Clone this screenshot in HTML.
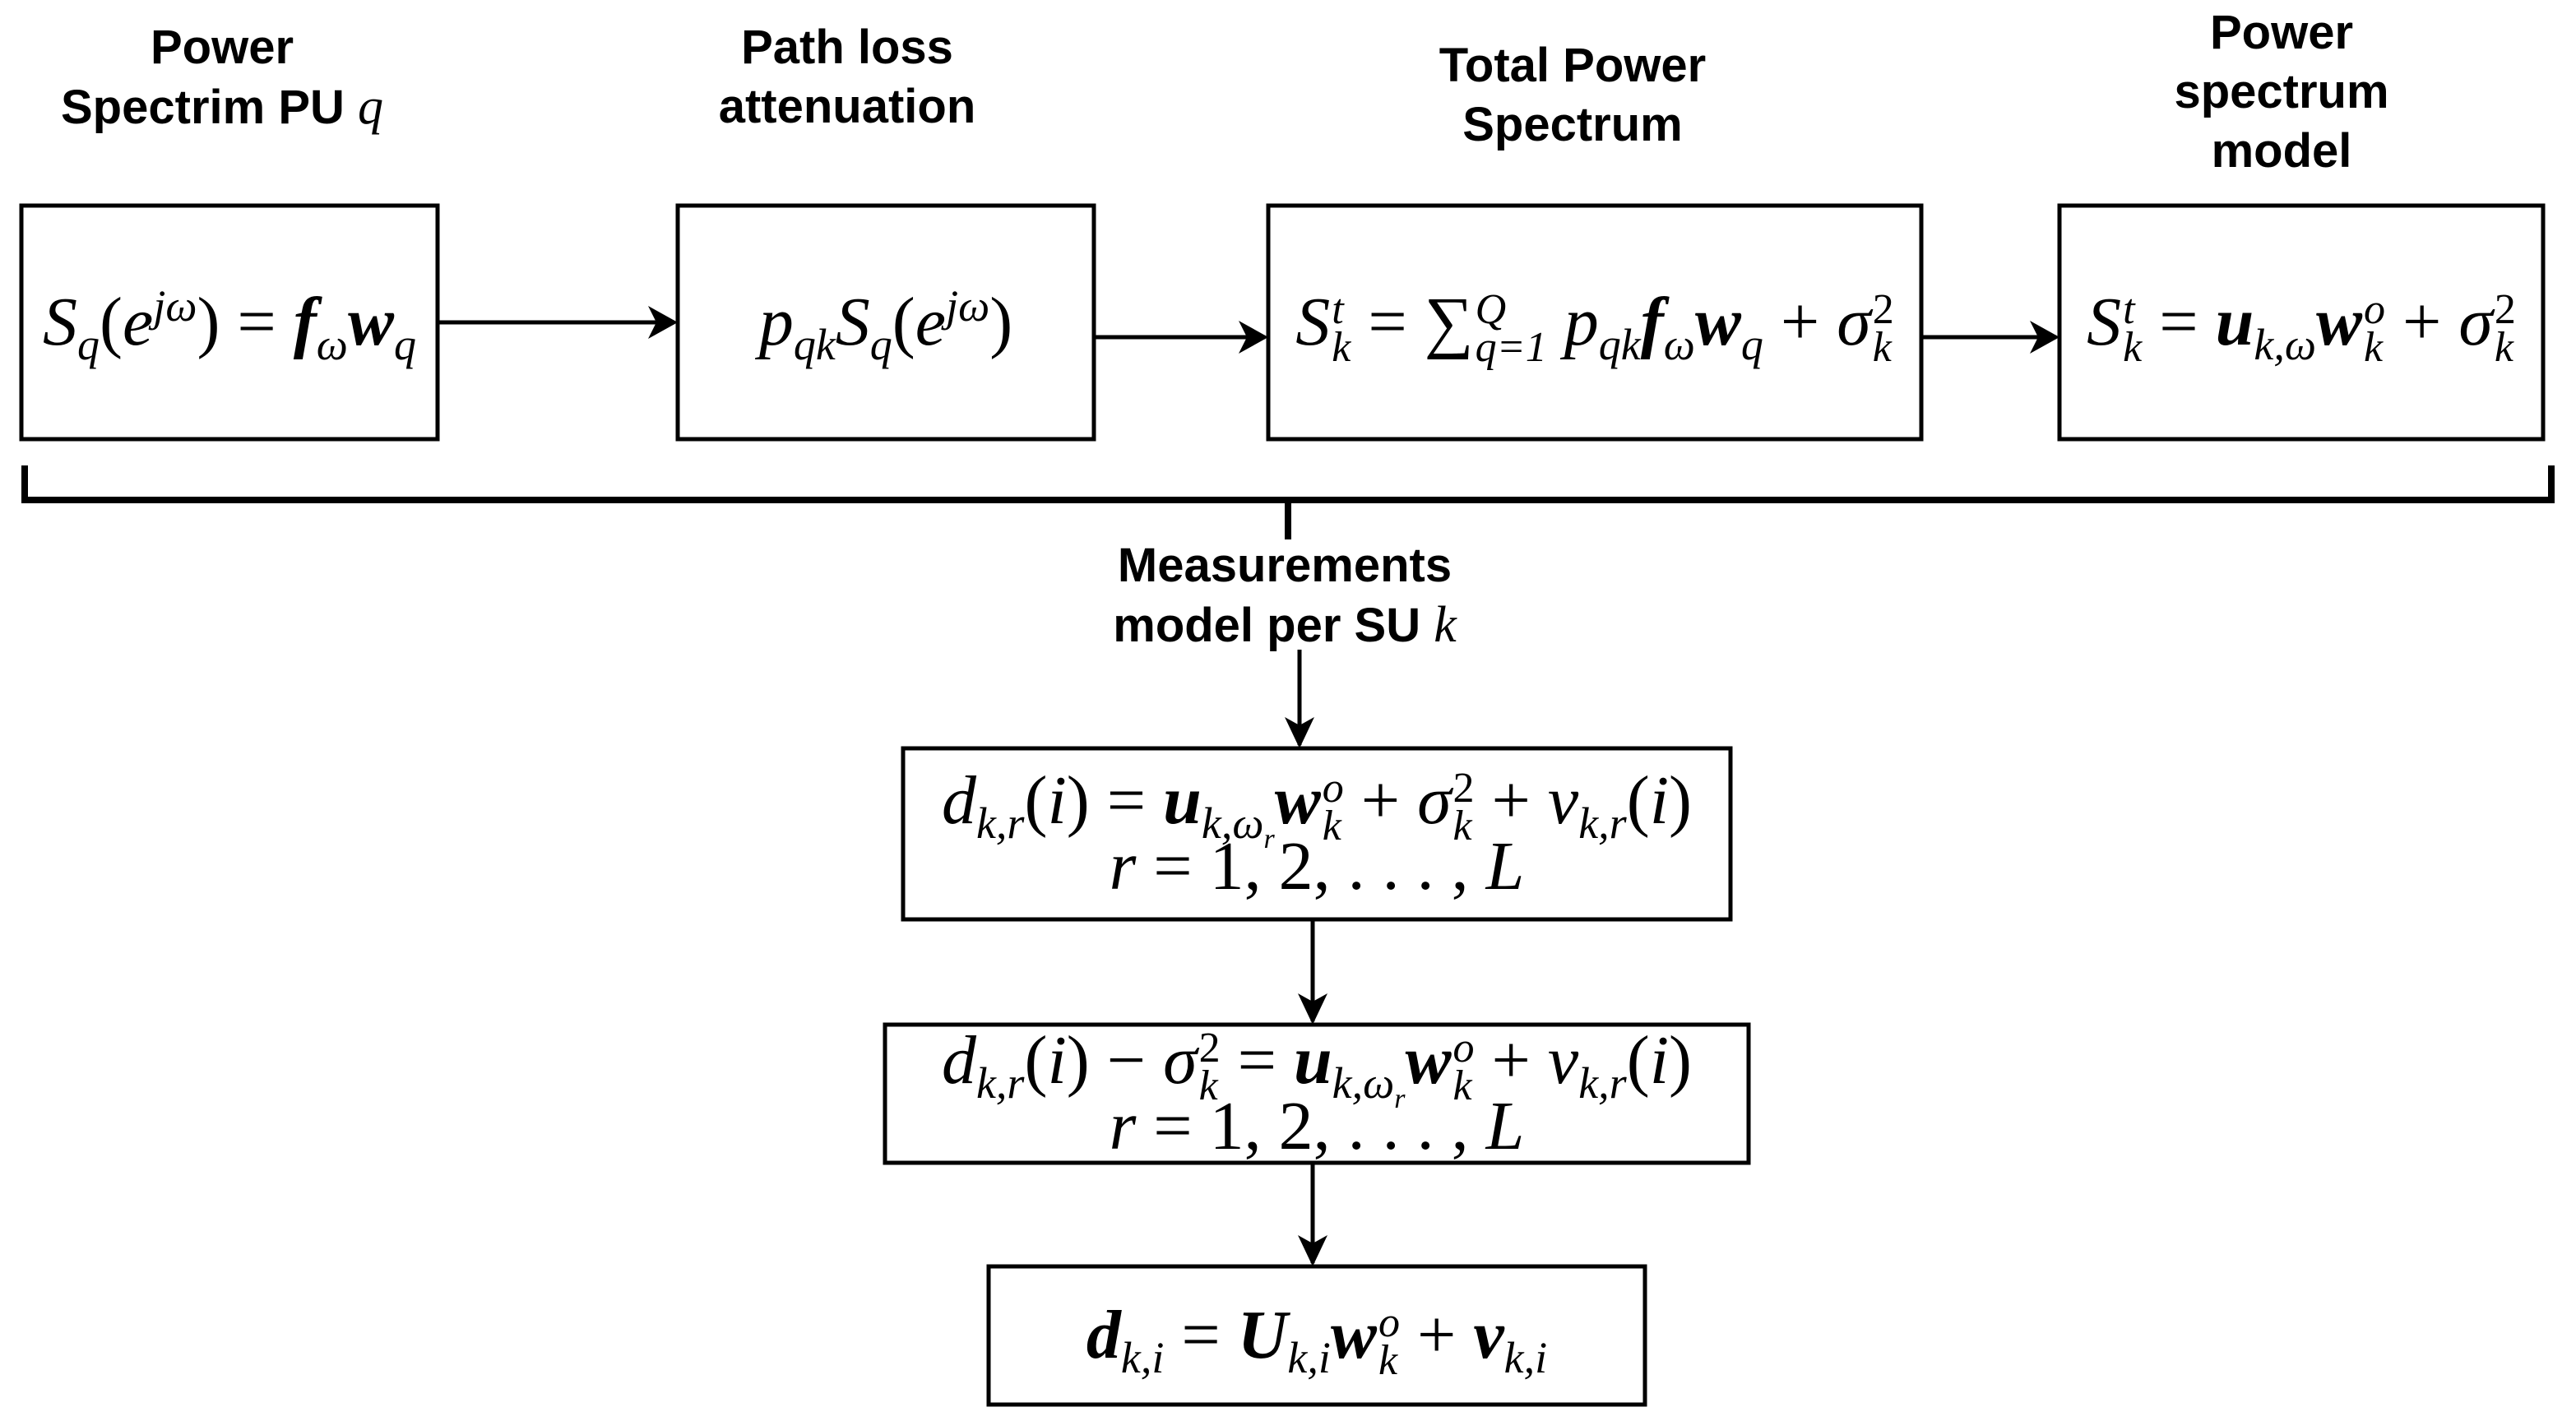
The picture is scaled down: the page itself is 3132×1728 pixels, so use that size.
<!DOCTYPE html>
<html><head><meta charset="utf-8"><style>
body{margin:0;width:3132px;height:1728px;background:#fff;position:relative;overflow:hidden}
.lab{position:absolute;font-family:"Liberation Sans",sans-serif;font-weight:bold;font-size:58px;text-align:center;line-height:72px;transform:translateX(-50%);white-space:nowrap}
.box{position:absolute;display:flex;align-items:center;justify-content:center;flex-direction:column;font-family:"Liberation Serif",serif;font-size:84px;line-height:64px;white-space:nowrap}
.box>div{height:80px;line-height:80px}
i{font-style:italic}
b{font-weight:bold;font-style:italic}
sub,sup{font-size:54px;line-height:0}
.ss{display:inline-flex;flex-direction:column;vertical-align:middle;font-size:52px;line-height:46px;font-style:italic;margin-left:2px}
</style></head><body>
<svg width="3132" height="1728" style="position:absolute;left:0;top:0">
<g fill="none" stroke="#000" stroke-width="5">
<rect x="26" y="250" width="506" height="284"/>
<rect x="824" y="250" width="506" height="284"/>
<rect x="1542" y="250" width="794" height="284"/>
<rect x="2504" y="250" width="588" height="284"/>
<rect x="1098" y="910" width="1006" height="208"/>
<rect x="1076" y="1246" width="1050" height="168"/>
<rect x="1202" y="1540" width="798" height="168"/>
</g>
<g stroke="#000" stroke-width="5">
<line x1="532" y1="392" x2="820" y2="392"/>
<line x1="1330" y1="410" x2="1538" y2="410"/>
<line x1="2336" y1="410" x2="2500" y2="410"/>
<line x1="1580" y1="790" x2="1580" y2="906"/>
<line x1="1596" y1="1118" x2="1596" y2="1242"/>
<line x1="1596" y1="1414" x2="1596" y2="1536"/>
</g>
<g fill="#000">
<path d="M824,392 L788,372 L798,392 L788,412z"/>
<path d="M1542,410 L1506,390 L1516,410 L1506,430z"/>
<path d="M2504,410 L2468,390 L2478,410 L2468,430z"/>
<path d="M1580,910 L1562,872 L1580,882 L1598,872z"/>
<path d="M1596,1246 L1578,1208 L1596,1218 L1614,1208z"/>
<path d="M1596,1540 L1578,1502 L1596,1512 L1614,1502z"/>
</g>
<g fill="none" stroke="#000" stroke-width="8">
<polyline points="30,566 30,608 3102,608 3102,566"/>
<line x1="1566" y1="608" x2="1566" y2="656"/>
</g>
</svg>
<div class="lab" style="left:270px;top:22px">Power<br>Spectrim PU <i style="font-family:'Liberation Serif',serif;font-weight:normal;font-size:62px">q</i></div>
<div class="lab" style="left:1030px;top:22px">Path loss<br>attenuation</div>
<div class="lab" style="left:1912px;top:44px">Total Power<br>Spectrum</div>
<div class="lab" style="left:2774px;top:4px">Power<br>spectrum<br>model</div>
<div class="lab" style="left:1562px;top:652px">Measurements<br>model per SU <i style="font-family:'Liberation Serif',serif;font-weight:normal;font-size:62px">k</i></div>

<div class="box" style="left:26px;top:250px;width:506px;height:284px"><div><i>S</i><sub><i>q</i></sub>(<i>e</i><sup><i>jω</i></sup>) = <b>f</b><sub><i>ω</i></sub><b>w</b><sub><i>q</i></sub></div></div>
<div class="box" style="left:824px;top:250px;width:506px;height:284px"><div><i>p</i><sub><i>qk</i></sub><i>S</i><sub><i>q</i></sub>(<i>e</i><sup><i>jω</i></sup>)</div></div>
<div class="box" style="left:1542px;top:250px;width:794px;height:284px"><div><i>S</i><span class="ss"><span>t</span><span>k</span></span> = ∑<span class="ss"><span>Q</span><span>q=1</span></span> <i>p</i><sub><i>qk</i></sub><b>f</b><sub><i>ω</i></sub><b>w</b><sub><i>q</i></sub> + <i>σ</i><span class="ss"><span style="font-style:normal">2</span><span>k</span></span></div></div>
<div class="box" style="left:2504px;top:250px;width:588px;height:284px"><div><i>S</i><span class="ss"><span>t</span><span>k</span></span> = <b>u</b><sub><i>k,ω</i></sub><b>w</b><span class="ss"><span>o</span><span>k</span></span> + <i>σ</i><span class="ss"><span style="font-style:normal">2</span><span>k</span></span></div></div>
<div class="box" style="left:1098px;top:910px;width:1006px;height:208px"><div><i>d</i><sub><i>k,r</i></sub>(<i>i</i>) = <b>u</b><sub><i>k,ω<sub style="font-size:34px">r</sub></i></sub><b>w</b><span class="ss"><span>o</span><span>k</span></span> + <i>σ</i><span class="ss"><span style="font-style:normal">2</span><span>k</span></span> + <i>v</i><sub><i>k,r</i></sub>(<i>i</i>)</div><div><i>r</i> = 1, 2, . . . , <i>L</i></div></div>
<div class="box" style="left:1076px;top:1246px;width:1050px;height:168px"><div><i>d</i><sub><i>k,r</i></sub>(<i>i</i>) − <i>σ</i><span class="ss"><span style="font-style:normal">2</span><span>k</span></span> = <b>u</b><sub><i>k,ω<sub style="font-size:34px">r</sub></i></sub><b>w</b><span class="ss"><span>o</span><span>k</span></span> + <i>v</i><sub><i>k,r</i></sub>(<i>i</i>)</div><div><i>r</i> = 1, 2, . . . , <i>L</i></div></div>
<div class="box" style="left:1202px;top:1540px;width:798px;height:168px"><div><b>d</b><sub><i>k,i</i></sub> = <b>U</b><sub><i>k,i</i></sub><b>w</b><span class="ss"><span>o</span><span>k</span></span> + <b>v</b><sub><i>k,i</i></sub></div></div>
</body></html>
